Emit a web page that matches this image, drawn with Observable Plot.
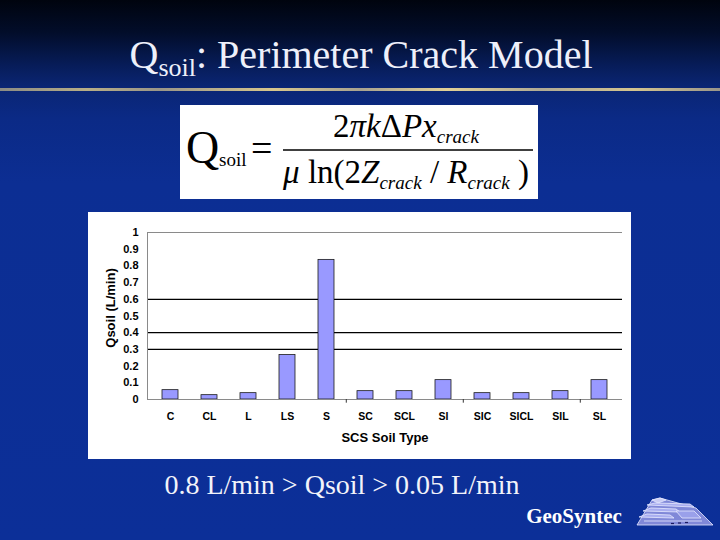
<!DOCTYPE html>
<html>
<head>
<meta charset="utf-8">
<script src="https://cdn.jsdelivr.net/npm/d3@7"></script>
<script src="https://cdn.jsdelivr.net/npm/@observablehq/plot@0.6"></script>
<style>
  html, body { margin: 0; padding: 0; }
  #slide {
    position: relative; width: 720px; height: 540px; overflow: hidden;
    background: linear-gradient(to bottom, #00040e 0%, #020d2a 6%, #071c58 12%, #0a2573 16%, #0b2a86 22%, #0c2e93 34%, #0c2f98 100%);
    font-family: "Liberation Serif", "Times New Roman", serif;
  }
  #goldline {
    position: absolute; left: 0; top: 88px; width: 720px; height: 3px;
    background: linear-gradient(to right, #8c8c84 0%, #b8ae86 12%, #9a9688 22%, #d8c68c 38%, #a8a290 50%, #e2d096 62%, #b0aa94 75%, #d4c48e 88%, #9a968a 100%);
  }
  #formula {
    position: absolute; left: 180px; top: 105px; width: 358px; height: 94px; background: #fff;
  }
  #chart { position: absolute; left: 88px; top: 212px; }
  #overlay { position: absolute; left: 0; top: 0; pointer-events: none; }
  .serif { font-family: "Liberation Serif", "Times New Roman", serif; }
</style>
</head>
<body>
<div id="slide">
  <div id="goldline"></div>
  <div id="formula">
    <svg width="358" height="94" class="serif">
      <text x="6" y="58" font-size="46">Q</text>
      <text x="39" y="61" font-size="19">soil</text>
      <text x="71" y="56" font-size="38">=</text>
      <line x1="103" x2="353" y1="45" y2="45" stroke="#000" stroke-width="1.6"/>
      <text x="226" y="32" font-size="33" text-anchor="middle">2<tspan font-style="italic">πk</tspan>Δ<tspan font-style="italic">Px</tspan><tspan font-style="italic" font-size="19" dy="6">crack</tspan></text>
      <text x="226" y="78" font-size="33" text-anchor="middle"><tspan font-style="italic">μ</tspan> ln(2<tspan font-style="italic">Z</tspan><tspan font-style="italic" font-size="19" dy="6">crack</tspan><tspan dy="-6"> / </tspan><tspan font-style="italic">R</tspan><tspan font-style="italic" font-size="19" dy="6">crack</tspan><tspan dy="-6"> )</tspan></text>
    </svg>
  </div>
  <div id="chart"></div>
  <svg id="overlay" width="720" height="540" class="serif">
    <text x="361" y="68" text-anchor="middle" fill="#eef0fa" font-size="40">Q<tspan font-size="26" dy="8">soil</tspan><tspan dy="-8">: Perimeter Crack Model</tspan></text>
    <text x="342" y="494" text-anchor="middle" fill="#f2f3fa" font-size="28">0.8 L/min &gt; Qsoil &gt; 0.05 L/min</text>
    <text x="574" y="523" text-anchor="middle" fill="#ffffff" font-size="21" font-weight="bold">GeoSyntec</text>
    <g transform="translate(630,490)" stroke="#e6e8ff" stroke-width="0.8">
      <polygon points="7,35 83,35 66,18 30,8 22,10" fill="#8088d8"/>
      <polygon points="22,10 30,8 36,10 28,13" fill="#c9ccf4"/>
      <polygon points="17,15 25,13 60,14 64,17" fill="#a9aef0"/>
      <polygon points="13,21 21,18 46,19 50,22" fill="#a9aef0"/>
      <polygon points="9,27 17,24 40,25 44,28" fill="#a9aef0"/>
      <polygon points="46,21 64,21 71,28 52,28" fill="#9aa0ea"/>
      <polyline points="14,31 72,31" fill="none"/>
    </g>
    <g transform="translate(630,490)" stroke="#1a1a60" stroke-width="1.2">
      <line x1="41" x2="44" y1="33.5" y2="33.5"/>
      <line x1="48" x2="51" y1="33" y2="33"/>
      <line x1="55" x2="58" y1="32.5" y2="32.5"/>
    </g>
  </svg>
</div>
<script>
// ---- data ----
const soilTypes = ["C", "CL", "L", "LS", "S", "SC", "SCL", "SI", "SIC", "SICL", "SIL", "SL"];
const qsoilValues = [0.056, 0.026, 0.038, 0.266, 0.836, 0.05, 0.05, 0.116, 0.038, 0.038, 0.05, 0.116];
const yTickValues = [0, 0.1, 0.2, 0.3, 0.4, 0.5, 0.6, 0.7, 0.8, 0.9, 1];
const gridValues = [0.3, 0.4, 0.6];
const boundaryTickAfter = ["S", "SI", "SIL"];
const xTitle = "SCS Soil Type";
const yTitle = "Qsoil (L/min)";

const rows = soilTypes.map((t, i) => ({type: t, q: qsoilValues[i]}));

const W = 543, H = 247, mL = 59, mR = 9, mT = 20, mB = 60;
const step = (W - mL - mR) / soilTypes.length;

const chart = Plot.plot({
  width: W, height: H,
  marginLeft: mL, marginRight: mR, marginTop: mT, marginBottom: mB,
  style: {background: "#ffffff", color: "#000", fontFamily: "'Liberation Sans', Arial, sans-serif", fontWeight: "bold", overflow: "visible"},
  x: {domain: soilTypes, paddingInner: 0.6, paddingOuter: 0.3, align: 0.5, label: null},
  y: {domain: [0, 1], label: null},
  marks: [
    Plot.ruleY(gridValues, {stroke: "#000", strokeWidth: 1.2}),
    Plot.ruleY([1], {stroke: "#8a8a8a", strokeWidth: 1}),
    Plot.barY(rows, {x: "type", y: "q", fill: "#9999ff", stroke: "#1a1a1a", strokeWidth: 0.8}),
    Plot.ruleY([0], {stroke: "#8a8a8a", strokeWidth: 1.2}),
    Plot.frame({anchor: "left", stroke: "#8a8a8a", strokeWidth: 1}),
    Plot.ruleX(boundaryTickAfter, {x: d => d, y1: 0, y2: -0.022, dx: step / 2, stroke: "#333"}),
    Plot.axisY({ticks: yTickValues, tickSize: 0, tickPadding: 9, tickFormat: d => String(d), fontSize: 11, fontWeight: "bold", label: null}),
    Plot.axisX({tickSize: 0, tickPadding: 13, fontSize: 10.5, fontWeight: "bold", label: null}),
    Plot.text([xTitle], {frameAnchor: "bottom", dy: 42, fontSize: 13, fontWeight: "bold", fill: "#000"}),
    Plot.text([yTitle], {frameAnchor: "left", textAnchor: "middle", rotate: -90, dx: -37, dy: -8, fontSize: 13, fontWeight: "bold", fill: "#000"})
  ]
});
document.getElementById("chart").appendChild(chart);
</script>
</body>
</html>
